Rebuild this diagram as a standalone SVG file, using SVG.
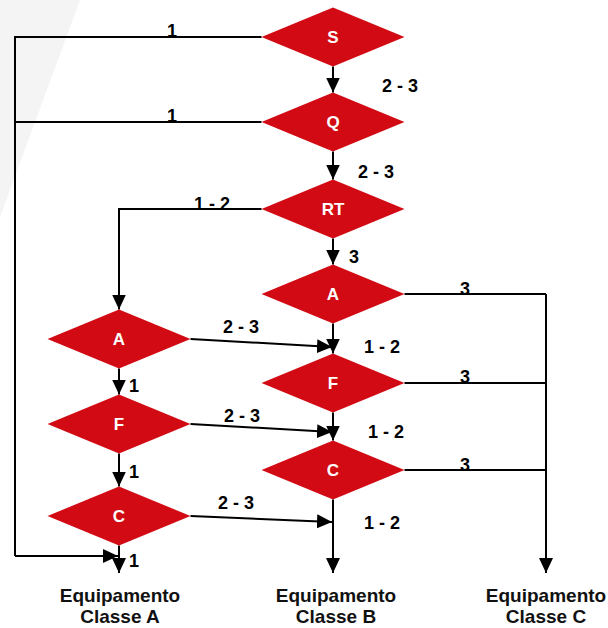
<svg xmlns="http://www.w3.org/2000/svg" width="608" height="628" viewBox="0 0 608 628">
  <style>
    .d { fill: #D20A13; }
    .dl { font-family: "Liberation Sans", Arial, sans-serif; font-weight: bold; font-size: 17px; fill: #FFFFFF; text-anchor: middle; }
    .c { fill: none; stroke: #000000; stroke-width: 2; }
    .a { marker-end: url(#ah); }
    .lb { font-family: "Liberation Sans", Arial, sans-serif; font-weight: bold; font-size: 18px; fill: #000000; text-anchor: middle; }
    .eq { font-family: "Liberation Sans", Arial, sans-serif; font-weight: bold; font-size: 19px; fill: #111111; text-anchor: middle; }
  </style>
  <defs>
    <marker id="ah" markerUnits="userSpaceOnUse" markerWidth="15" markerHeight="14" refX="15" refY="7" orient="auto">
      <path d="M0,0 L15,7 L0,14 z" fill="#000000"/>
    </marker>
    <polygon id="dia" points="-71.5,0 0,-29.5 71.5,0 0,29.5"/>
  </defs>
  <rect width="608" height="628" fill="#FFFFFF"/>
  <polygon points="0,0 80,0 0,217" fill="#F4F4F4"/>

  <g id="connectors">
    <path class="c" d="M261.5,37 H15 V556"/>
    <path class="c a" d="M15,556 H118"/>
    <path class="c" d="M261.5,122 H15"/>
    <path class="c a" d="M333,66.5 V92.5"/>
    <path class="c a" d="M333,151.5 V179.5"/>
    <path class="c a" d="M261.5,209 H119 V309.5"/>
    <path class="c a" d="M333,238.5 V264.5"/>
    <path class="c a" d="M333,323.5 V353.5"/>
    <path class="c a" d="M333,412.5 V440.5"/>
    <path class="c a" d="M333,499.5 V573"/>
    <path class="c a" d="M119,368.5 V394.5"/>
    <path class="c a" d="M119,453.5 V486.5"/>
    <path class="c a" d="M119,545.5 V573"/>
    <path class="c a" d="M190.5,339 L332,347"/>
    <path class="c a" d="M190.5,424 L332,432"/>
    <path class="c a" d="M190.5,516 L332,522"/>
    <path class="c" d="M404.5,294 H546"/>
    <path class="c" d="M404.5,383 H546"/>
    <path class="c" d="M404.5,470 H546"/>
    <path class="c a" d="M546,294 V573"/>
  </g>

  <g id="labels">
    <text class="lb" x="172" y="37">1</text>
    <text class="lb" x="172" y="122">1</text>
    <text class="lb" x="400" y="92">2 - 3</text>
    <text class="lb" x="376" y="178">2 - 3</text>
    <text class="lb" x="212" y="210">1 - 2</text>
    <text class="lb" x="354" y="263">3</text>
    <text class="lb" x="465" y="295">3</text>
    <text class="lb" x="241" y="333">2 - 3</text>
    <text class="lb" x="382" y="353">1 - 2</text>
    <text class="lb" x="134" y="392">1</text>
    <text class="lb" x="465" y="383">3</text>
    <text class="lb" x="242" y="422">2 - 3</text>
    <text class="lb" x="386" y="438">1 - 2</text>
    <text class="lb" x="134" y="478">1</text>
    <text class="lb" x="465" y="471">3</text>
    <text class="lb" x="236" y="509">2 - 3</text>
    <text class="lb" x="382" y="529">1 - 2</text>
    <text class="lb" x="134" y="567">1</text>
  </g>

  <g id="node-S"><use href="#dia" class="d" x="333" y="37"/><text class="dl" x="333" y="43">S</text></g>
  <g id="node-Q"><use href="#dia" class="d" x="333" y="122"/><text class="dl" x="333" y="128">Q</text></g>
  <g id="node-RT"><use href="#dia" class="d" x="333" y="209"/><text class="dl" x="333" y="215">RT</text></g>
  <g id="node-A-right"><use href="#dia" class="d" x="333" y="294"/><text class="dl" x="333" y="300">A</text></g>
  <g id="node-F-right"><use href="#dia" class="d" x="333" y="383"/><text class="dl" x="333" y="389">F</text></g>
  <g id="node-C-right"><use href="#dia" class="d" x="333" y="470"/><text class="dl" x="333" y="476">C</text></g>
  <g id="node-A-left"><use href="#dia" class="d" x="119" y="339"/><text class="dl" x="119" y="345">A</text></g>
  <g id="node-F-left"><use href="#dia" class="d" x="119" y="424"/><text class="dl" x="119" y="430">F</text></g>
  <g id="node-C-left"><use href="#dia" class="d" x="119" y="516"/><text class="dl" x="119" y="522">C</text></g>

  <g id="out-A"><text class="eq" x="120" y="602">Equipamento</text><text class="eq" x="120" y="623">Classe A</text></g>
  <g id="out-B"><text class="eq" x="336" y="602">Equipamento</text><text class="eq" x="336" y="623">Classe B</text></g>
  <g id="out-C"><text class="eq" x="546" y="602">Equipamento</text><text class="eq" x="546" y="623">Classe C</text></g>
</svg>
